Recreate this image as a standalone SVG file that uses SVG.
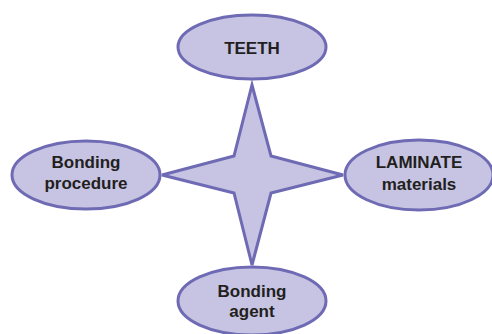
<svg xmlns="http://www.w3.org/2000/svg" width="492" height="334" viewBox="0 0 492 334">
<style>
.n{fill:#c6c4e2;stroke:#6f6ab4;stroke-width:3}
.t{font-family:"Liberation Sans",Arial,sans-serif;font-weight:bold;font-size:17px;fill:#231f20;text-anchor:middle}
</style>
<rect width="492" height="334" fill="#fff"/>
<g id="connectors">
<path class="n" d="M252,85 L271,156 L343,175 L271,193 L252,265 L234,193 L162,175 L234,156 Z" stroke-linejoin="miter"/>
</g>
<g id="teeth">
<ellipse class="n" cx="252" cy="47" rx="74" ry="32"/>
<text class="t" x="252" y="54">TEETH</text>
</g>
<g id="bonding-procedure">
<ellipse class="n" cx="86" cy="175" rx="74" ry="34"/>
<text class="t" x="86" y="168">Bonding</text>
<text class="t" x="86" y="189">procedure</text>
</g>
<g id="laminate">
<ellipse class="n" cx="419" cy="175" rx="74" ry="35"/>
<text class="t" x="419" y="168">LAMINATE</text>
<text class="t" x="419" y="190">materials</text>
</g>
<g id="bonding-agent">
<ellipse class="n" cx="252" cy="301" rx="74" ry="34"/>
<text class="t" x="252" y="297">Bonding</text>
<text class="t" x="252" y="317">agent</text>
</g>
</svg>
